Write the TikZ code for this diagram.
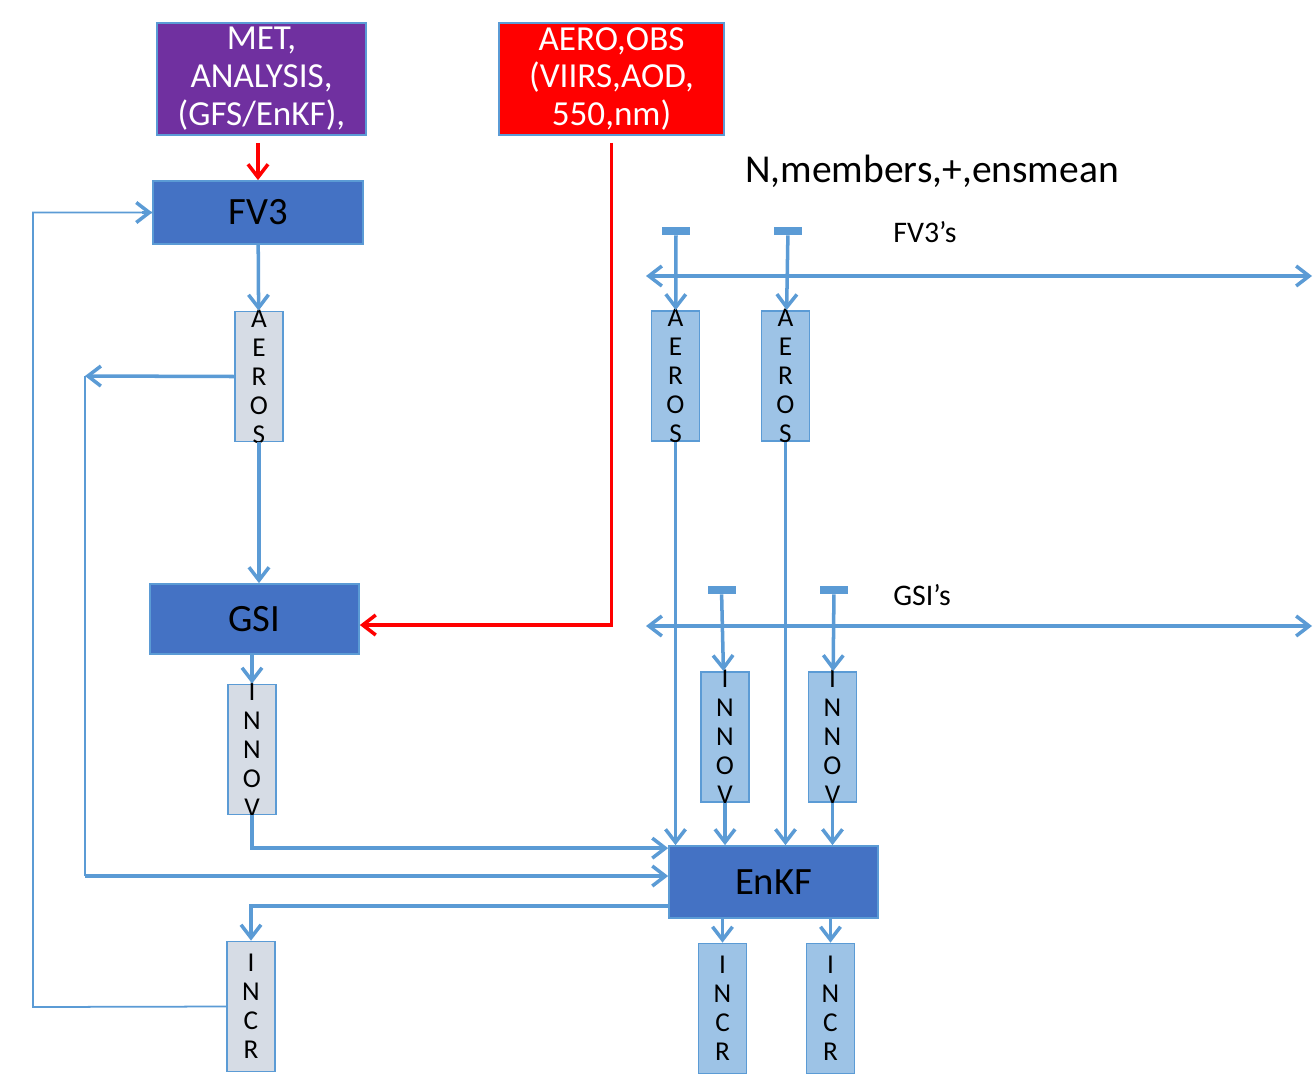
\documentclass[tikz,border=0pt]{standalone}
\usepackage{fontspec}
\setmainfont{Carlito}
\usetikzlibrary{arrows.meta,positioning}

\definecolor{lineblue}{HTML}{5B9BD5}
\definecolor{boxblue}{HTML}{4472C4}
\definecolor{paleblue}{HTML}{9DC3E6}
\definecolor{palegray}{HTML}{D6DCE5}
\definecolor{metpurple}{HTML}{7030A0}

\tikzset{
	big/.style={draw=lineblue, line width=1pt, fill=boxblue, minimum width=4.18cm, minimum height=1.4cm, inner sep=0pt, font=\fontsize{22}{26}\selectfont},
	src/.style={draw=lineblue, line width=1pt, minimum height=2.24cm, inner sep=0pt, text=white, align=center, font=\fontsize{20}{21.6}\selectfont},
	letters/.style={align=center, inner sep=0pt, font=\fontsize{15.5}{16.5}\selectfont},
	col/.style={draw=lineblue, line width=1pt, fill=paleblue, minimum width=0.96cm, minimum height=2.6cm, inner sep=0pt, label={[letters]center:#1}},
	gcol/.style={col={#1}, fill=palegray},
	bar/.style={fill=lineblue, minimum width=0.56cm, minimum height=0.16cm, inner sep=0pt},
	flow/.style={color=lineblue, line width=2pt, -{Straight Barb[length=2.6mm,width=4mm]}},
	dflow/.style={draw=lineblue, line width=2pt, {Straight Barb[length=2.6mm,width=4mm]}-{Straight Barb[length=2.6mm,width=4mm]}},
	redflow/.style={draw=red, line width=2pt, -{Straight Barb[length=2.6mm,width=4mm]}},
	thinline/.style={draw=lineblue, line width=1pt}
}

\begin{document}
\begin{tikzpicture}[x=0.02cm,y=-0.02cm,node distance=2.2cm,on grid]
	\useasboundingbox (0,0) rectangle (1314,1079);

	\node[src,fill=metpurple,minimum width=4.18cm] (met) at (261.5,79) {MET,\\ANALYSIS,\\(GFS/EnKF),};
	\node[src,fill=red,minimum width=4.5cm] (obs) at (611.5,79) {AERO,OBS\\(VIIRS,AOD,\\550,nm)};

	\node[big,minimum width=4.2cm,minimum height=1.26cm] (fv3) at (258,212.5) {FV3};
	\node[big] (gsi) at (254.5,619) {GSI};
	\node[big,minimum height=1.44cm] (enkf) at (773.5,882) {EnKF};

	\node[gcol={A\\E\\R\\O\\S}] (aerosC) at (259,376.5) {};
	\node[gcol={I\\N\\N\\O\\V}] (innovC) at (252,749.5) {};
	\node[gcol={I\\N\\C\\R}] (incrC) at (251,1006.5) {};

	\node[bar] (fvbarA) at (676,231) {};
	\node[bar] (fvbarB) [right=2.24cm of fvbarA] {};
	\node[col={A\\E\\R\\O\\S}] (aerosA) at (675.5,376) {};
	\node[col={A\\E\\R\\O\\S}] (aerosB) [right=of aerosA] {};
	\node[bar] (gsibarA) at (721.5,590) {};
	\node[bar] (gsibarB) [right=2.25cm of gsibarA] {};
	\node[col={I\\N\\N\\O\\V}] (innovA) at (725,737) {};
	\node[col={I\\N\\N\\O\\V}] (innovB) [right=2.15cm of innovA] {};
	\node[col={I\\N\\C\\R}] (incrA) at (722.5,1008.5) {};
	\node[col={I\\N\\C\\R}] (incrB) [right=2.16cm of incrA] {};

	\node[font=\fontsize{22.5}{26}\selectfont] (title) at (932,171) {N,members,+,ensmean};
	\node[font=\fontsize{17}{20}\selectfont] (fvlab) at (925,232) {FV3’s};
	\node[font=\fontsize{17}{20}\selectfont] (gsilab) at (922,595) {GSI’s};

	\coordinate (fvL) at (646,276);
	\coordinate (fvR) at (1312,276);
	\coordinate (gsiL) at (646,626);
	\coordinate (gsiR) at (1312,626);
	\coordinate (aerosOut) at (85,376);
	\coordinate (toEnkf) at (85,876);
	\coordinate (backL) at (33,1007);

	\draw[dflow] (fvL) -- (fvR);
	\draw[dflow] (gsiL) -- (gsiR);

	\draw[redflow,shorten <=4pt] (met.south -| fv3) -- (fv3.north);
	\draw[redflow,shorten <=4pt] (obs.south) |- ([yshift=-0.12cm]gsi.east);

	\path[flow]
	(fv3) edge (aerosC)
	(aerosC.south) edge (aerosC.south |- gsi.north)
	(gsi.south -| innovC) edge (innovC)
	(aerosC.west) edge (aerosOut)
	(toEnkf) edge (toEnkf -| enkf.west)
	;
	\draw[thinline] (aerosOut) -- (toEnkf);
	\draw[flow] (innovC.south) |- ([yshift=-0.06cm]enkf.north west);
	\draw[flow] ([yshift=-0.48cm]enkf.west) -| (incrC.north);
	\draw[thinline] (incrC.west) -- (backL) |- (fv3.west);
	\draw[flow] ([xshift=-0.2cm]fv3.west) -- (fv3.west);

	\path[flow]
	(fvbarA) edge (aerosA)
	(fvbarB) edge (aerosB)
	(aerosA) edge (aerosA |- enkf.north)
	(aerosB) edge (aerosB |- enkf.north)
	(gsibarA) edge (innovA)
	(gsibarB) edge (innovB)
	(innovA) edge (innovA |- enkf.north)
	(innovB) edge (innovB |- enkf.north)
	(incrA |- enkf.south) edge (incrA)
	(incrB |- enkf.south) edge (incrB)
	;
\end{tikzpicture}
\end{document}
